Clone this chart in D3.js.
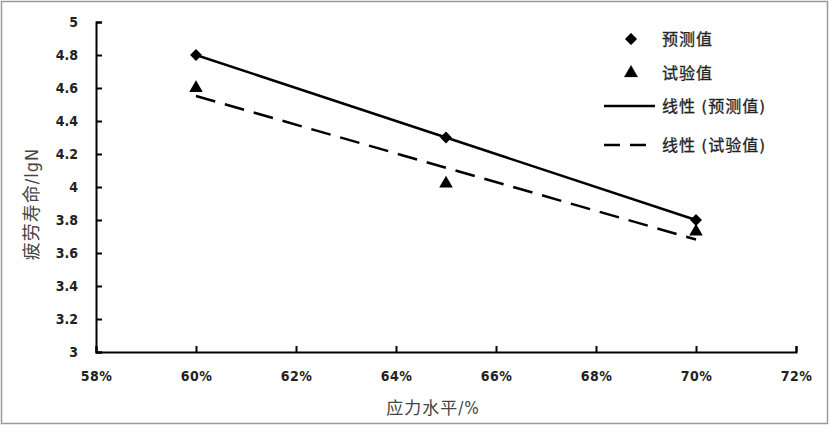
<!DOCTYPE html>
<html><head><meta charset="utf-8">
<script src="https://cdn.jsdelivr.net/npm/d3@7"></script>
<style>body{margin:0;background:#fff}svg{display:block}</style>
</head><body>
<svg id="c" width="831" height="429"></svg>
<script>
const stress = [0.60, 0.65, 0.70];
const predicted = [4.80, 4.30, 3.80];
const experimental = [4.60, 4.02, 3.73];
const xTicks = [0.58,0.60,0.62,0.64,0.66,0.68,0.70,0.72];
const yTicks = [3,3.2,3.4,3.6,3.8,4,4.2,4.4,4.6,4.8,5];
const legendLabels = ["预测值","试验值","线性 (预测值)","线性 (试验值)"];
const xTitle = "应力水平/%";
const yTitle = "疲劳寿命/lgN";

const svg = d3.select("#c");
svg.append("rect").attr("x",1.5).attr("y",1.5).attr("width",826).attr("height",422)
  .attr("fill","#fff").attr("stroke","#9a9a9a").attr("stroke-width",1.5);

const x = d3.scaleLinear().domain([0.58,0.72]).range([96,796]);
const y = d3.scaleLinear().domain([3,5]).range([352,22]);

const font = "'DejaVu Sans Condensed','Liberation Sans Narrow','Noto Sans CJK SC',sans-serif";

const xa = svg.append("g").attr("transform","translate(0,352)")
  .call(d3.axisBottom(x).tickValues(xTicks).tickSize(-6).tickPadding(19).tickFormat(d=>Math.round(d*100)+"%"));
const ya = svg.append("g").attr("transform","translate(96,0)")
  .call(d3.axisLeft(y).tickValues(yTicks).tickSize(-6).tickPadding(18).tickFormat(d=>d3.format("")(+d.toFixed(1))));
[xa,ya].forEach(a=>{
  a.select(".domain").attr("stroke","#000").attr("stroke-width",2);
  a.selectAll(".tick line").attr("stroke","#000").attr("stroke-width",2);
  a.selectAll("text").attr("font-family",font).attr("font-size",14).attr("font-weight","bold").attr("fill","#222");
});
xa.selectAll("text").attr("letter-spacing","0.5px");

function fit(xs, ys){
  const mx=d3.mean(xs), my=d3.mean(ys);
  const b=d3.sum(xs.map((v,i)=>(v-mx)*(ys[i]-my)))/d3.sum(xs.map(v=>(v-mx)**2));
  return v=>my+b*(v-mx);
}
const fp = fit(stress,predicted), fe = fit(stress,experimental);
const x0=d3.min(stress), x1=d3.max(stress);
svg.append("line").attr("x1",x(x0)).attr("y1",y(fp(x0))).attr("x2",x(x1)).attr("y2",y(fp(x1)))
  .attr("stroke","#000").attr("stroke-width",2.5);
svg.append("line").attr("x1",x(x0)).attr("y1",y(fe(x0))).attr("x2",x(x1)).attr("y2",y(fe(x1)))
  .attr("stroke","#000").attr("stroke-width",2.5).attr("stroke-dasharray","20,10");

const diamond = d3.symbol().type(d3.symbolDiamond2).size(90);
const tri = d3.symbol().type(d3.symbolTriangle).size(80);
svg.selectAll(".p").data(stress).join("path").attr("d",diamond)
  .attr("transform",(d,i)=>`translate(${x(d)},${y(predicted[i])})`).attr("fill","#000");
svg.selectAll(".e").data(stress).join("path").attr("d",tri)
  .attr("transform",(d,i)=>`translate(${x(d)},${y(experimental[i])})`).attr("fill","#000");

// legend
const lg = svg.append("g").attr("font-family",font).attr("font-size",16).attr("fill","#222")
  .attr("letter-spacing","1px").attr("stroke","#222").attr("stroke-width",0.3);
const ly=[39,73,106,145];
lg.append("path").attr("d",diamond).attr("transform",`translate(631,${ly[0]})`).attr("fill","#000");
lg.append("path").attr("d",tri).attr("transform",`translate(631,${ly[1]})`).attr("fill","#000");
lg.append("line").attr("x1",604).attr("x2",655).attr("y1",ly[2]).attr("y2",ly[2]).attr("stroke","#000").attr("stroke-width",2.5);
lg.append("line").attr("x1",604).attr("x2",655).attr("y1",ly[3]).attr("y2",ly[3]).attr("stroke","#000").attr("stroke-width",2.5).attr("stroke-dasharray","16,10");
legendLabels.forEach((t,i)=>{
  lg.append("text").attr("x",662).attr("y",ly[i]).attr("dy","0.36em").text(t);
});

svg.append("text").attr("x",433).attr("y",408).attr("dy","0.36em").attr("text-anchor","middle")
  .attr("font-family",font).attr("font-size",17).attr("letter-spacing","1px").attr("fill","#444").text(xTitle);
svg.append("text").attr("transform","translate(32,204) rotate(-90)").attr("dy","0.36em").attr("text-anchor","middle")
  .attr("font-family",font).attr("font-size",18).attr("letter-spacing","1px").attr("fill","#444").text(yTitle);
</script>
</body></html>
